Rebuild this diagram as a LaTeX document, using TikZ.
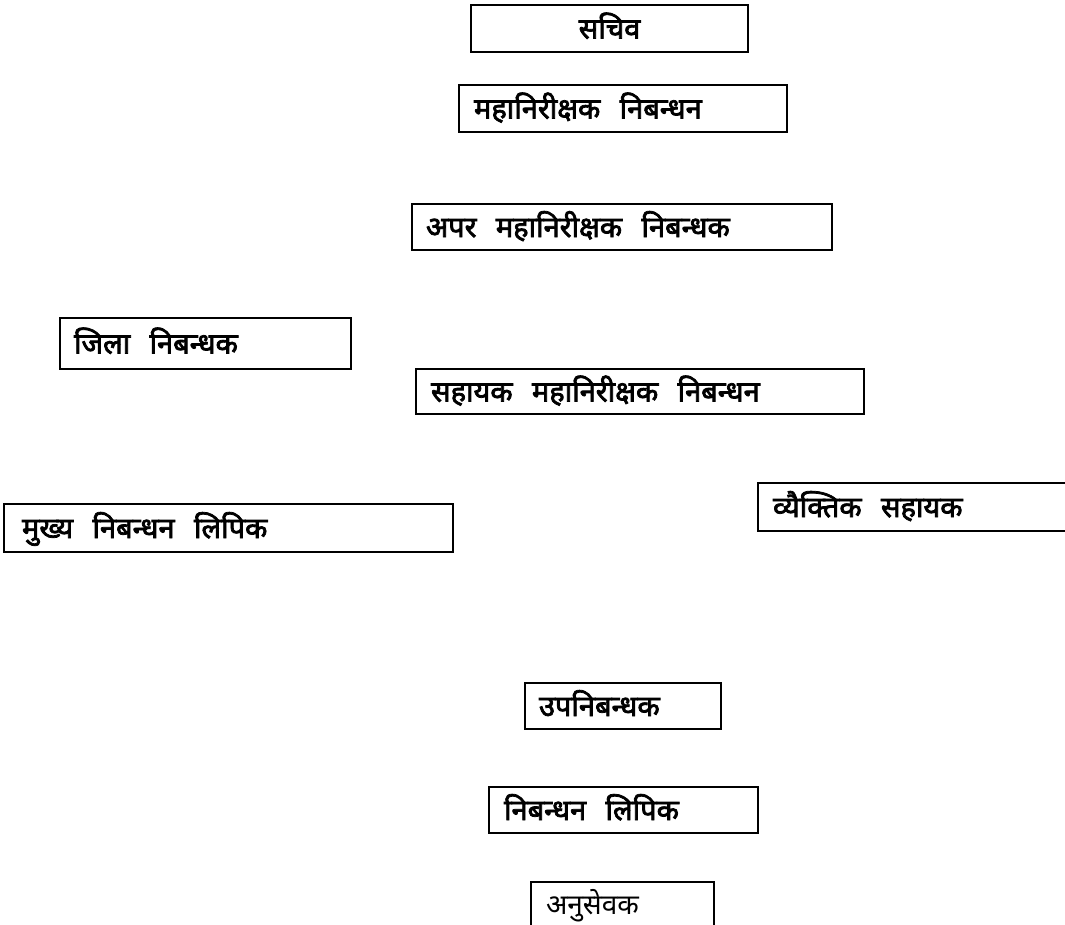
\documentclass[tikz,border=0pt]{standalone}
\usepackage{fontspec}
\newfontfamily\dev[Script=Devanagari]{Noto Sans}
\newfontfamily\devb[Script=Devanagari, FakeBold=2.6]{Noto Sans}
\begin{document}
\begin{tikzpicture}[x=1pt,y=-1pt,
  post/.style={draw=black, line width=2.1pt, anchor=north west, inner ysep=0pt,
    minimum height=47pt, text height=20pt, text depth=0pt,
    font=\devb\fontsize{29}{33}\selectfont, align=left},
  plain/.style={post, font=\dev\fontsize{28}{32}\selectfont}]
\useasboundingbox (0,0) rectangle (1065,924);
\clip (0,0) rectangle (1065,924);
\fill[white] (0,0) rectangle (1065,924);
\node[post, align=center, text width=277pt, inner xsep=0pt] (sachiv) at (470,4) {सचिव};
\node[post, text width=298pt, inner xsep=15pt] (mahani) at (458,84) {महानिरीक्षक\ \ निबन्धन};
\node[post, text width=392pt, inner xsep=14pt, minimum height=46pt] (apar) at (411,203) {अपर\ \ महानिरीक्षक\ \ निबन्धक};
\node[post, text width=263pt, inner xsep=14pt, minimum height=51pt] (jila) at (59,317) {जिला\ \ निबन्धक};
\node[post, text width=418pt, inner xsep=15pt, minimum height=45pt] (sahayak) at (415,368) {सहायक\ \ महानिरीक्षक\ \ निबन्धन};
\node[post, text width=295pt, inner xsep=15pt, minimum height=48pt] (vyaktik) at (757,482) {व्यैक्तिक\ \ सहायक};
\node[post, text width=413pt, inner xsep=18pt, minimum height=48pt] (mukhya) at (3,503) {मुख्य\ \ निबन्धन\ \ लिपिक};
\node[post, text width=168pt, inner xsep=14pt, minimum height=46pt] (upani) at (524,682) {उपनिबन्धक};
\node[post, text width=239pt, inner xsep=15pt, minimum height=46pt] (nibandhan) at (488,786) {निबन्धन\ \ लिपिक};
\node[plain, text width=153pt, inner xsep=15pt, minimum height=60pt, text height=4pt] (anusevak) at (530,881) {अनुसेवक};
\end{tikzpicture}
\end{document}
